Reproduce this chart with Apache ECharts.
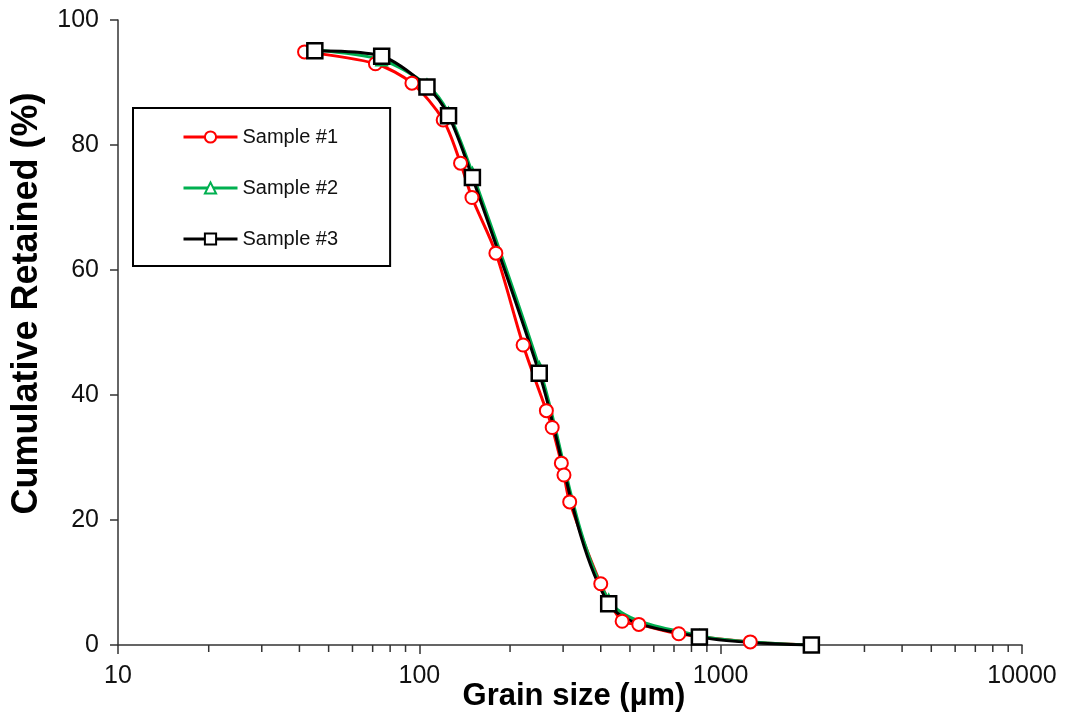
<!DOCTYPE html>
<html>
<head>
<meta charset="utf-8">
<script src="https://cdn.jsdelivr.net/npm/echarts@6/dist/echarts.min.js"></script>
<style>
  html, body { margin: 0; padding: 0; background: #fff; }
  #chart { width: 1065px; height: 719px; }
</style>
</head>
<body>
<div id="chart"></div>
<script>
// Grain size (µm) and cumulative retained (%) for each sample
const sizes1 = [41.6, 71.5, 94.5, 120, 137, 149.5, 179.5, 221, 264, 276, 296, 302, 315.5, 400, 471, 535, 726, 1254, 2000];
const sample1 = [94.9, 93.0, 89.9, 84.0, 77.1, 71.6, 62.7, 48.0, 37.5, 34.8, 29.1, 27.2, 22.9, 9.8, 3.8, 3.3, 1.8, 0.5, 0];

const sieveSizes = [45, 75, 106, 125, 150, 250, 425, 850, 2000];
const sample2 = [95.2, 93.6, 89.6, 85.1, 75.5, 44.4, 7.2, 1.5, 0];
const sample3 = [95.1, 94.2, 89.3, 84.7, 74.8, 43.5, 6.6, 1.3, 0];

const seriesNames = ['Sample #1', 'Sample #2', 'Sample #3'];

// Minor tick positions on the logarithmic grain-size axis
const minorTicks = [20, 30, 40, 50, 60, 70, 80, 90,
                    200, 300, 400, 500, 600, 700, 800, 900,
                    2000, 3000, 4000, 5000, 6000, 7000, 8000, 9000];

const zip = (xs, ys) => xs.map((x, i) => [x, ys[i]]);
const FONT = 'Liberation Sans, Arial, sans-serif';

const chart = echarts.init(document.getElementById('chart'), null, { renderer: 'canvas' });

function lineSeries(name, xs, ys, color, symbol, size, borderW) {
  return {
    name: name,
    type: 'line',
    data: zip(xs, ys),
    smooth: 0.3,
    symbol: symbol,
    symbolSize: size,
    showAllSymbol: true,
    lineStyle: { color: color, width: 3 },
    itemStyle: { color: '#fff', borderColor: color, borderWidth: borderW },
    emphasis: { disabled: true },
    z: 3
  };
}

chart.setOption({
  backgroundColor: '#fff',
  animation: false,
  grid: { left: 118, right: 43, top: 20, bottom: 74, outerBoundsMode: 'none', containLabel: false },
  legend: {
    data: seriesNames,
    orient: 'vertical',
    left: 133,
    top: 108,
    itemWidth: 54,
    itemHeight: 14,
    itemGap: 31,
    padding: [19, 52, 17, 49],
    borderColor: '#000',
    borderWidth: 2,
    lineStyle: { width: 3 },
    textStyle: { fontFamily: FONT, fontSize: 20, color: '#111' }
  },
  xAxis: {
    type: 'log',
    logBase: 10,
    min: 10,
    max: 10000,
    name: 'Grain size (µm)',
    nameLocation: 'middle',
    nameGap: 36,
    nameMoveOverlap: false,
    nameTextStyle: { fontFamily: FONT, fontSize: 31, fontWeight: 'bold', color: '#000', padding: [0, 0, 0, 8] },
    axisLine: { lineStyle: { color: '#333', width: 1.5 } },
    axisTick: { inside: false, length: 9, lineStyle: { color: '#333', width: 1.5 } },
    axisLabel: {
      fontFamily: FONT, fontSize: 25, color: '#111', margin: 19,
      formatter: v => String(Math.round(v))
    },
    splitLine: { show: false }
  },
  yAxis: {
    type: 'value',
    min: 0,
    max: 100,
    interval: 20,
    name: 'Cumulative Retained (%)',
    nameLocation: 'middle',
    nameGap: 73,
    nameMoveOverlap: false,
    nameTextStyle: { fontFamily: FONT, fontSize: 36, fontWeight: 'bold', color: '#000', padding: [0, 0, 0, 58] },
    axisLine: { show: true, lineStyle: { color: '#333', width: 1.5 } },
    axisTick: { show: true, inside: false, length: 8, lineStyle: { color: '#333', width: 1.5 } },
    axisLabel: { fontFamily: FONT, fontSize: 25, color: '#111', margin: 19 },
    splitLine: { show: false }
  },
  series: [
    {
      name: 'minor ticks',
      type: 'custom',
      clip: false,
      silent: true,
      data: minorTicks.map(v => [v, 0]),
      encode: { x: 0, y: 1 },
      renderItem: function (params, api) {
        const p = api.coord([api.value(0), 0]);
        return {
          type: 'line',
          shape: { x1: p[0], y1: p[1], x2: p[0], y2: p[1] + 7 },
          style: { stroke: '#333', lineWidth: 1.5 }
        };
      },
      z: 1
    },
    lineSeries(seriesNames[0], sizes1, sample1, '#ff0000', 'circle', 13, 2),
    lineSeries(seriesNames[1], sieveSizes, sample2, '#00b050', 'triangle', 11, 2),
    lineSeries(seriesNames[2], sieveSizes, sample3, '#000000', 'rect', 15, 2.5)
  ]
});
</script>
</body>
</html>
